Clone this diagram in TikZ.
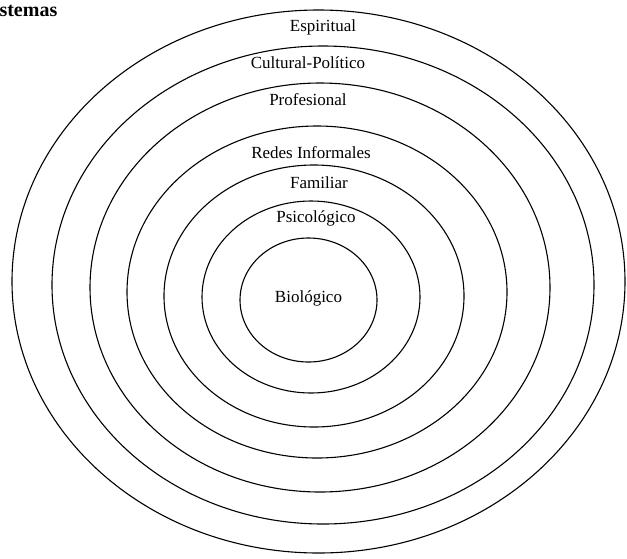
\documentclass[tikz,border=0pt]{standalone}
\usepackage{fontspec}
\setmainfont{Liberation Serif}
\usepackage{tikz}
\usetikzlibrary{positioning,shapes.geometric}

\begin{document}
\begin{tikzpicture}[x=1pt, y=-1pt, line width=1.1pt,
ring/.style ={ellipse, draw, inner sep=0pt},
tag/.style ={inner sep=0pt, font=\fontsize{17}{20}\selectfont}]
\useasboundingbox (0,0) rectangle (627,558);
\node (esp) [ring, minimum width=613pt, minimum height=543pt] at (318.5,281.5) {};
\node (cult) [ring, minimum width=542pt, minimum height=478pt] at (323,285) {};
\node (prof) [ring, minimum width=460pt, minimum height=409pt] at (320,287.5) {};
\node (redes) [ring, minimum width=380pt, minimum height=332pt] at (317,292) {};
\node (fam) [ring, minimum width=300pt, minimum height=262pt] at (314,296) {};
\node (psico) [ring, minimum width=218pt, minimum height=192pt] at (311,297) {};
\node (bio) [ring, minimum width=137pt, minimum height=124pt] at (308.5,300) {};

\node (Tbio) [tag] at (308.5,298) {Biológico};
\node (Tpsico) [tag] at (316,218) {Psicológico};
\node (Tfam) [tag] at (319,183) {Familiar};
\node (Tredes) [tag] at (311,153) {Redes Informales};
\node (Tprof) [tag] at (308,100) {Profesional};
\node (Tcult) [tag] at (308,63) {Cultural-Político};
\node (Tesp) [tag] at (323,27) {Espiritual};

\node (title) [inner sep=0pt, anchor=west, font=\fontsize{20}{22}\selectfont\bfseries] at (-1,11) {stemas};
\end{tikzpicture}
\end{document}
